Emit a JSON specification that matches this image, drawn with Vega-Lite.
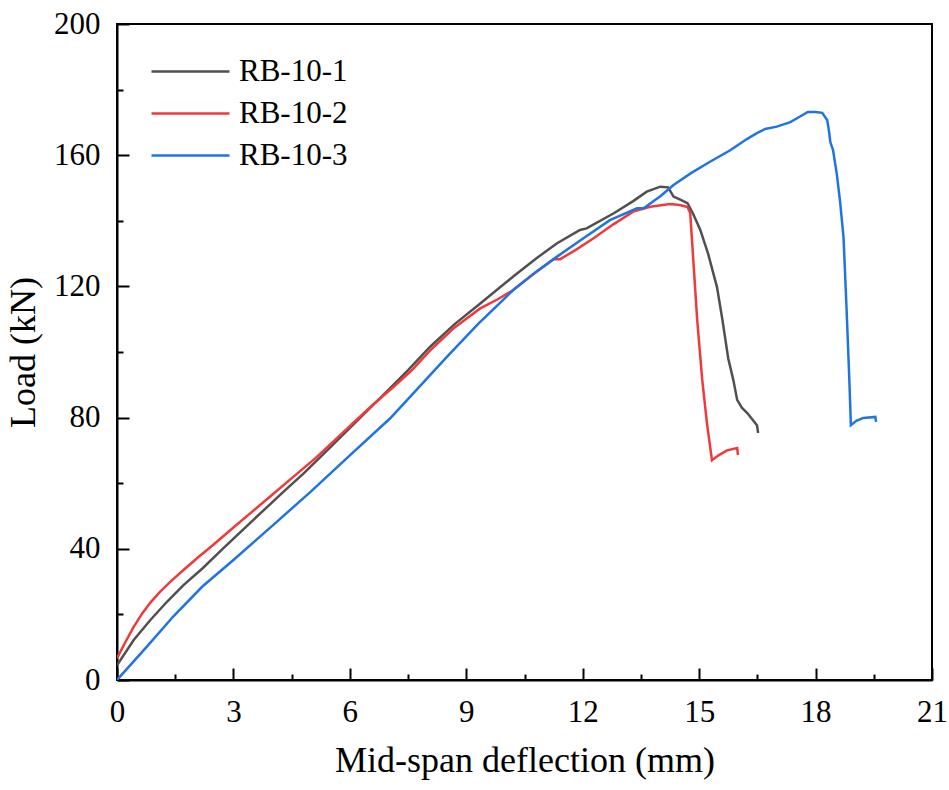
{
  "$schema": "https://vega.github.io/schema/vega-lite/v6.json",
  "width": 815,
  "height": 656,
  "autosize": {"type": "none"},
  "padding": {"left": 117, "top": 24, "right": 17, "bottom": 110},
  "background": "white",
  "config": {
    "font": "Liberation Serif",
    "view": {"stroke": "black", "strokeWidth": 2},
    "axis": {
      "domainColor": "black",
      "domainWidth": 2,
      "tickColor": "black",
      "tickWidth": 2,
      "grid": false,
      "labelFont": "Liberation Serif",
      "labelFontSize": 31,
      "labelColor": "black",
      "titleFont": "Liberation Serif",
      "titleFontSize": 36,
      "titleFontWeight": "normal",
      "titleColor": "black"
    }
  },
  "data": {
    "values": [
      {"s": "RB-10-1", "x": 0, "y": 4.5},
      {"s": "RB-10-1", "x": 0.43, "y": 12.2},
      {"s": "RB-10-1", "x": 0.86, "y": 18.3},
      {"s": "RB-10-1", "x": 1.3, "y": 24},
      {"s": "RB-10-1", "x": 1.72, "y": 29},
      {"s": "RB-10-1", "x": 2.2, "y": 34},
      {"s": "RB-10-1", "x": 2.75, "y": 40.3},
      {"s": "RB-10-1", "x": 3.44, "y": 48},
      {"s": "RB-10-1", "x": 4.3, "y": 57.5},
      {"s": "RB-10-1", "x": 4.81, "y": 63},
      {"s": "RB-10-1", "x": 5.5, "y": 71},
      {"s": "RB-10-1", "x": 6.27, "y": 80},
      {"s": "RB-10-1", "x": 6.87, "y": 87},
      {"s": "RB-10-1", "x": 7.5, "y": 94.5},
      {"s": "RB-10-1", "x": 8.07, "y": 101.6},
      {"s": "RB-10-1", "x": 8.7, "y": 108.5},
      {"s": "RB-10-1", "x": 9.36, "y": 114.8},
      {"s": "RB-10-1", "x": 10.21, "y": 123},
      {"s": "RB-10-1", "x": 10.8, "y": 128.5},
      {"s": "RB-10-1", "x": 11.33, "y": 133.1},
      {"s": "RB-10-1", "x": 11.93, "y": 137.2},
      {"s": "RB-10-1", "x": 12.1, "y": 137.7},
      {"s": "RB-10-1", "x": 12.8, "y": 142.3},
      {"s": "RB-10-1", "x": 13.3, "y": 146},
      {"s": "RB-10-1", "x": 13.65, "y": 148.9},
      {"s": "RB-10-1", "x": 14.0, "y": 150.4},
      {"s": "RB-10-1", "x": 14.2, "y": 150.2},
      {"s": "RB-10-1", "x": 14.34, "y": 147.4},
      {"s": "RB-10-1", "x": 14.5, "y": 146.5},
      {"s": "RB-10-1", "x": 14.7, "y": 145.4},
      {"s": "RB-10-1", "x": 14.85, "y": 142},
      {"s": "RB-10-1", "x": 15.03, "y": 137.2},
      {"s": "RB-10-1", "x": 15.23, "y": 130},
      {"s": "RB-10-1", "x": 15.46, "y": 119.8},
      {"s": "RB-10-1", "x": 15.6, "y": 109.8},
      {"s": "RB-10-1", "x": 15.75, "y": 98},
      {"s": "RB-10-1", "x": 15.88, "y": 91.5},
      {"s": "RB-10-1", "x": 15.98, "y": 85.4},
      {"s": "RB-10-1", "x": 16.1, "y": 83},
      {"s": "RB-10-1", "x": 16.24, "y": 81.4},
      {"s": "RB-10-1", "x": 16.49, "y": 77.7},
      {"s": "RB-10-1", "x": 16.52, "y": 75.3},
      {"s": "RB-10-2", "x": 0, "y": 6.6},
      {"s": "RB-10-2", "x": 0.2, "y": 11.2},
      {"s": "RB-10-2", "x": 0.43, "y": 16.2},
      {"s": "RB-10-2", "x": 0.65, "y": 20.3},
      {"s": "RB-10-2", "x": 0.86, "y": 23.6},
      {"s": "RB-10-2", "x": 1.12, "y": 27},
      {"s": "RB-10-2", "x": 1.4, "y": 30.2},
      {"s": "RB-10-2", "x": 1.72, "y": 33.6},
      {"s": "RB-10-2", "x": 2.1, "y": 37.5},
      {"s": "RB-10-2", "x": 2.49, "y": 41.3},
      {"s": "RB-10-2", "x": 3, "y": 46.5},
      {"s": "RB-10-2", "x": 3.5, "y": 51.5},
      {"s": "RB-10-2", "x": 4, "y": 56.5},
      {"s": "RB-10-2", "x": 4.55, "y": 62},
      {"s": "RB-10-2", "x": 5.1, "y": 67.5},
      {"s": "RB-10-2", "x": 5.6, "y": 73},
      {"s": "RB-10-2", "x": 6.1, "y": 78.5},
      {"s": "RB-10-2", "x": 6.6, "y": 84},
      {"s": "RB-10-2", "x": 7.13, "y": 89.4},
      {"s": "RB-10-2", "x": 7.6, "y": 94.5},
      {"s": "RB-10-2", "x": 8.07, "y": 100.5},
      {"s": "RB-10-2", "x": 8.7, "y": 107.5},
      {"s": "RB-10-2", "x": 9.36, "y": 113.3},
      {"s": "RB-10-2", "x": 9.8, "y": 116},
      {"s": "RB-10-2", "x": 10.21, "y": 118.9},
      {"s": "RB-10-2", "x": 10.7, "y": 123.5},
      {"s": "RB-10-2", "x": 11.25, "y": 128.3},
      {"s": "RB-10-2", "x": 11.42, "y": 128.3},
      {"s": "RB-10-2", "x": 11.8, "y": 131},
      {"s": "RB-10-2", "x": 12.28, "y": 134.7},
      {"s": "RB-10-2", "x": 12.8, "y": 139},
      {"s": "RB-10-2", "x": 13.3, "y": 142.8},
      {"s": "RB-10-2", "x": 13.74, "y": 144.3},
      {"s": "RB-10-2", "x": 14.25, "y": 145.1},
      {"s": "RB-10-2", "x": 14.5, "y": 144.8},
      {"s": "RB-10-2", "x": 14.7, "y": 144.2},
      {"s": "RB-10-2", "x": 14.77, "y": 142.4},
      {"s": "RB-10-2", "x": 14.85, "y": 128},
      {"s": "RB-10-2", "x": 14.95, "y": 109.8},
      {"s": "RB-10-2", "x": 15.08, "y": 91.5},
      {"s": "RB-10-2", "x": 15.2, "y": 78.4},
      {"s": "RB-10-2", "x": 15.33, "y": 67},
      {"s": "RB-10-2", "x": 15.5, "y": 68.5},
      {"s": "RB-10-2", "x": 15.72, "y": 70},
      {"s": "RB-10-2", "x": 15.98, "y": 70.7},
      {"s": "RB-10-2", "x": 16.0, "y": 68.6},
      {"s": "RB-10-3", "x": 0, "y": 0},
      {"s": "RB-10-3", "x": 0.77, "y": 10.2},
      {"s": "RB-10-3", "x": 1.46, "y": 19.5},
      {"s": "RB-10-3", "x": 2.2, "y": 28.5},
      {"s": "RB-10-3", "x": 3.0, "y": 36.6},
      {"s": "RB-10-3", "x": 4, "y": 47},
      {"s": "RB-10-3", "x": 5, "y": 57.5},
      {"s": "RB-10-3", "x": 6, "y": 68.5},
      {"s": "RB-10-3", "x": 7.04, "y": 79.8},
      {"s": "RB-10-3", "x": 7.8, "y": 89.5},
      {"s": "RB-10-3", "x": 8.5, "y": 98.5},
      {"s": "RB-10-3", "x": 9.3, "y": 108.5},
      {"s": "RB-10-3", "x": 10.21, "y": 118.9},
      {"s": "RB-10-3", "x": 10.8, "y": 124.5},
      {"s": "RB-10-3", "x": 11.33, "y": 129},
      {"s": "RB-10-3", "x": 12, "y": 134.5},
      {"s": "RB-10-3", "x": 12.7, "y": 140.2},
      {"s": "RB-10-3", "x": 13.4, "y": 143.8},
      {"s": "RB-10-3", "x": 13.57, "y": 143.8},
      {"s": "RB-10-3", "x": 14.0, "y": 147.5},
      {"s": "RB-10-3", "x": 14.34, "y": 150.9},
      {"s": "RB-10-3", "x": 14.8, "y": 154.6},
      {"s": "RB-10-3", "x": 15.28, "y": 158},
      {"s": "RB-10-3", "x": 15.8, "y": 161.5},
      {"s": "RB-10-3", "x": 16.24, "y": 165},
      {"s": "RB-10-3", "x": 16.5, "y": 166.8},
      {"s": "RB-10-3", "x": 16.7, "y": 168},
      {"s": "RB-10-3", "x": 17.0, "y": 168.7},
      {"s": "RB-10-3", "x": 17.35, "y": 170.1},
      {"s": "RB-10-3", "x": 17.6, "y": 171.8},
      {"s": "RB-10-3", "x": 17.8, "y": 173.2},
      {"s": "RB-10-3", "x": 18.0, "y": 173.2},
      {"s": "RB-10-3", "x": 18.17, "y": 172.9},
      {"s": "RB-10-3", "x": 18.3, "y": 170.7},
      {"s": "RB-10-3", "x": 18.35, "y": 167},
      {"s": "RB-10-3", "x": 18.38, "y": 164},
      {"s": "RB-10-3", "x": 18.45, "y": 161.6},
      {"s": "RB-10-3", "x": 18.55, "y": 154},
      {"s": "RB-10-3", "x": 18.63, "y": 146},
      {"s": "RB-10-3", "x": 18.72, "y": 135},
      {"s": "RB-10-3", "x": 18.8, "y": 112.8},
      {"s": "RB-10-3", "x": 18.87, "y": 91.5},
      {"s": "RB-10-3", "x": 18.91, "y": 77.7},
      {"s": "RB-10-3", "x": 19.05, "y": 79},
      {"s": "RB-10-3", "x": 19.23, "y": 79.9},
      {"s": "RB-10-3", "x": 19.54, "y": 80.2},
      {"s": "RB-10-3", "x": 19.56, "y": 78.7}
    ]
  },
  "mark": {"type": "line", "strokeWidth": 2.5, "clip": true},
  "encoding": {
    "x": {
      "field": "x",
      "type": "quantitative",
      "scale": {"domain": [0, 21], "nice": false, "zero": false},
      "axis": {
        "title": "Mid-span deflection (mm)",
        "values": [0, 1.5, 3, 4.5, 6, 7.5, 9, 10.5, 12, 13.5, 15, 16.5, 18, 19.5, 21],
        "labelExpr": "datum.value % 3 === 0 ? datum.label : ''",
        "tickSize": -12,
        "tickDash": {"condition": {"test": "datum.value % 3 === 0", "value": [12, 0]}, "value": [6, 40]},
        "labelPadding": 29,
        "titlePadding": 16,
        "labelFlush": false
      }
    },
    "y": {
      "field": "y",
      "type": "quantitative",
      "scale": {"domain": [0, 200], "nice": false},
      "axis": {
        "title": "Load (kN)",
        "values": [0, 20, 40, 60, 80, 100, 120, 140, 160, 180, 200],
        "labelExpr": "datum.value % 40 === 0 ? datum.label : ''",
        "tickSize": -12,
        "tickDash": {"condition": {"test": "datum.value % 40 === 0", "value": [12, 0]}, "value": [6, 40]},
        "labelPadding": 29,
        "titlePadding": 11,
        "labelFlush": false
      }
    },
    "color": {
      "field": "s",
      "type": "nominal",
      "scale": {"domain": ["RB-10-1", "RB-10-2", "RB-10-3"], "range": ["#505050", "#f03a3a", "#1f74e0"]},
      "legend": {
        "title": null,
        "orient": "none",
        "legendX": 58,
        "legendY": 32,
        "symbolType": "M-3,0H3",
        "symbolSize": 676,
        "symbolStrokeWidth": 2.5,
        "symbolFillColor": "transparent",
        "labelFontSize": 31,
        "labelFont": "Liberation Serif",
        "labelColor": "black",
        "labelOffset": 33,
        "rowPadding": 10,
        "padding": 0
      }
    },
    "order": {"value": null}
  }
}
